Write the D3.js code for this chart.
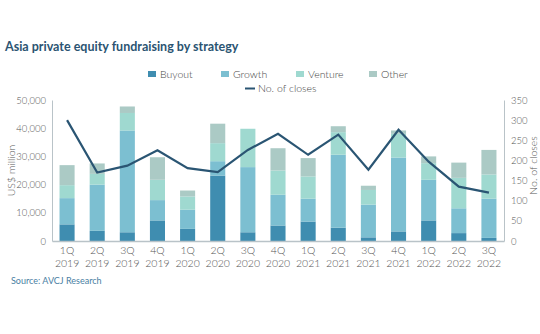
<!DOCTYPE html>
<html>
<head>
  <meta charset="utf-8">
  <style>
    body { margin: 0; background: #fff; }
    text { font-family: Lato, "Open Sans", sans-serif; }
    .tick text { fill: #555; font-size: 9.5px; font-weight: 300; }
  </style>
  <script src="https://d3js.org/d3.v7.min.js"></script>
</head>
<body>
  <div id="chart"></div>
  <script>
  // quarters and fundraising by strategy (US$ million)
  var quarters = ["1Q 2019", "2Q 2019", "3Q 2019", "4Q 2019", "1Q 2020", "2Q 2020", "3Q 2020", "4Q 2020",
                  "1Q 2021", "2Q 2021", "3Q 2021", "4Q 2021", "1Q 2022", "2Q 2022", "3Q 2022"];
  var buyout  = [5900, 3600, 3100, 7300, 4300, 23200, 3100, 5500, 6900, 4700, 1300, 3400, 7300, 2800, 1100];
  var growth  = [9300, 16400, 36100, 7200, 6800, 5100, 23100, 10900, 8100, 25900, 11600, 26200, 14400, 8800, 13900];
  var venture = [4600, 3800, 6200, 7200, 4700, 6400, 13600, 8600, 7900, 8000, 5200, 8400, 5900, 10800, 8600];
  var other   = [7100, 3700, 2300, 8000, 2100, 6900, 0, 7900, 6500, 2100, 1500, 1200, 2400, 5400, 8700];
  var closes  = [300, 170, 187, 225, 181, 171, 226, 266, 214, 264, 177, 276, 197, 135, 120];

  var seriesKeys = ["Buyout", "Growth", "Venture", "Other"];
  var colors = ["#3f8db0", "#7cbfd1", "#9fd9d0", "#abcac5"];

  var width = 540, height = 334;
  var margin = {top: 100, right: 36, bottom: 93, left: 52};
  var plotW = width - margin.left - margin.right,
      plotH = height - margin.top - margin.bottom;

  var data = quarters.map(function(q, i) {
    return {q: q, Buyout: buyout[i], Growth: growth[i], Venture: venture[i], Other: other[i], closes: closes[i]};
  });

  var x = d3.scaleBand().domain(quarters).range([0, plotW]).paddingInner(0.5).paddingOuter(0.25);
  var y = d3.scaleLinear().domain([0, 50000]).range([plotH, 0]);
  var y2 = d3.scaleLinear().domain([0, 350]).range([plotH, 0]);
  var color = d3.scaleOrdinal().domain(seriesKeys).range(colors);

  var svg = d3.select("#chart").append("svg")
      .attr("width", width)
      .attr("height", height);

  // title
  svg.append("text")
      .attr("x", 5).attr("y", 51)
      .style("font-size", "12.5px").style("font-weight", "700")
      .attr("fill", "#2b5472")
      .text("Asia private equity fundraising by strategy");

  // legend
  var legendPos = [148, 221, 296, 369];
  var legend = svg.append("g");
  seriesKeys.forEach(function(k, i) {
    legend.append("rect")
        .attr("x", legendPos[i]).attr("y", 71)
        .attr("width", 8).attr("height", 6)
        .attr("fill", color(k));
    legend.append("text")
        .attr("x", legendPos[i] + 12).attr("y", 78)
        .style("font-size", "10.5px").style("font-weight", "300")
        .attr("fill", "#444")
        .text(k);
  });
  legend.append("line")
      .attr("x1", 245).attr("x2", 255).attr("y1", 88.5).attr("y2", 88.5)
      .attr("stroke", "#2a5573").attr("stroke-width", 2);
  legend.append("text")
      .attr("x", 258).attr("y", 92)
      .style("font-size", "10.5px").style("font-weight", "300")
      .attr("fill", "#444")
      .text("No. of closes");

  var g = svg.append("g")
      .attr("transform", "translate(" + margin.left + "," + margin.top + ")");

  // stacked bars
  var stacked = d3.stack().keys(seriesKeys)(data);
  g.selectAll(".layer")
      .data(stacked)
    .enter().append("g")
      .attr("class", "layer")
      .attr("fill", function(d) { return color(d.key); })
    .selectAll("rect")
      .data(function(d) { return d; })
    .enter().append("rect")
      .attr("x", function(d) { return x(d.data.q); })
      .attr("width", x.bandwidth())
      .attr("y", function(d) { return y(d[1]); })
      .attr("height", function(d) { return y(d[0]) - y(d[1]); });

  // closes line
  var line = d3.line()
      .x(function(d) { return x(d.q) + x.bandwidth() / 2; })
      .y(function(d) { return y2(d.closes); });
  g.append("path")
      .datum(data)
      .attr("fill", "none")
      .attr("stroke", "#2a5573")
      .attr("stroke-width", 2.2)
      .attr("stroke-linejoin", "miter")
      .attr("d", line);

  // axes
  var axisColor = "#b9c3c8";
  var yAxis = g.append("g")
      .call(d3.axisLeft(y).tickValues(d3.range(0, 50001, 10000)).tickSize(0).tickPadding(6)
              .tickFormat(d3.format(",")));
  yAxis.select(".domain").attr("stroke", axisColor);

  var y2Axis = g.append("g")
      .attr("transform", "translate(" + plotW + ",0)")
      .call(d3.axisRight(y2).tickValues(d3.range(0, 351, 50)).tickSize(0).tickPadding(7));
  y2Axis.select(".domain").attr("stroke", axisColor);

  var xAxis = g.append("g")
      .attr("transform", "translate(0," + plotH + ")")
      .call(d3.axisBottom(x).tickSize(0).tickPadding(6));
  xAxis.select(".domain").attr("stroke", axisColor).attr("stroke-width", 1.5);
  xAxis.selectAll(".tick text")
      .style("font-size", "10.5px")
      .each(function(d) {
        var parts = d.split(" ");
        var t = d3.select(this).text(null);
        t.append("tspan").attr("x", 0).attr("dy", "0.71em").text(parts[0]);
        t.append("tspan").attr("x", 0).attr("dy", "1.15em").text(parts[1]);
      });

  // axis titles
  svg.append("text")
      .attr("transform", "translate(15," + (margin.top + plotH / 2) + ") rotate(-90)")
      .attr("text-anchor", "middle")
      .style("font-size", "10.5px").style("font-weight", "300")
      .attr("fill", "#555")
      .text("US$ million");
  svg.append("text")
      .attr("transform", "translate(537," + (margin.top + plotH / 2 - 5) + ") rotate(-90)")
      .attr("text-anchor", "middle")
      .style("font-size", "10.5px").style("font-weight", "300")
      .attr("fill", "#555")
      .text("No. of closes");

  // source note
  svg.append("text")
      .attr("x", 11).attr("y", 284)
      .style("font-size", "9px")
      .attr("fill", "#4a80a3")
      .text("Source: AVCJ Research");
  </script>
</body>
</html>
